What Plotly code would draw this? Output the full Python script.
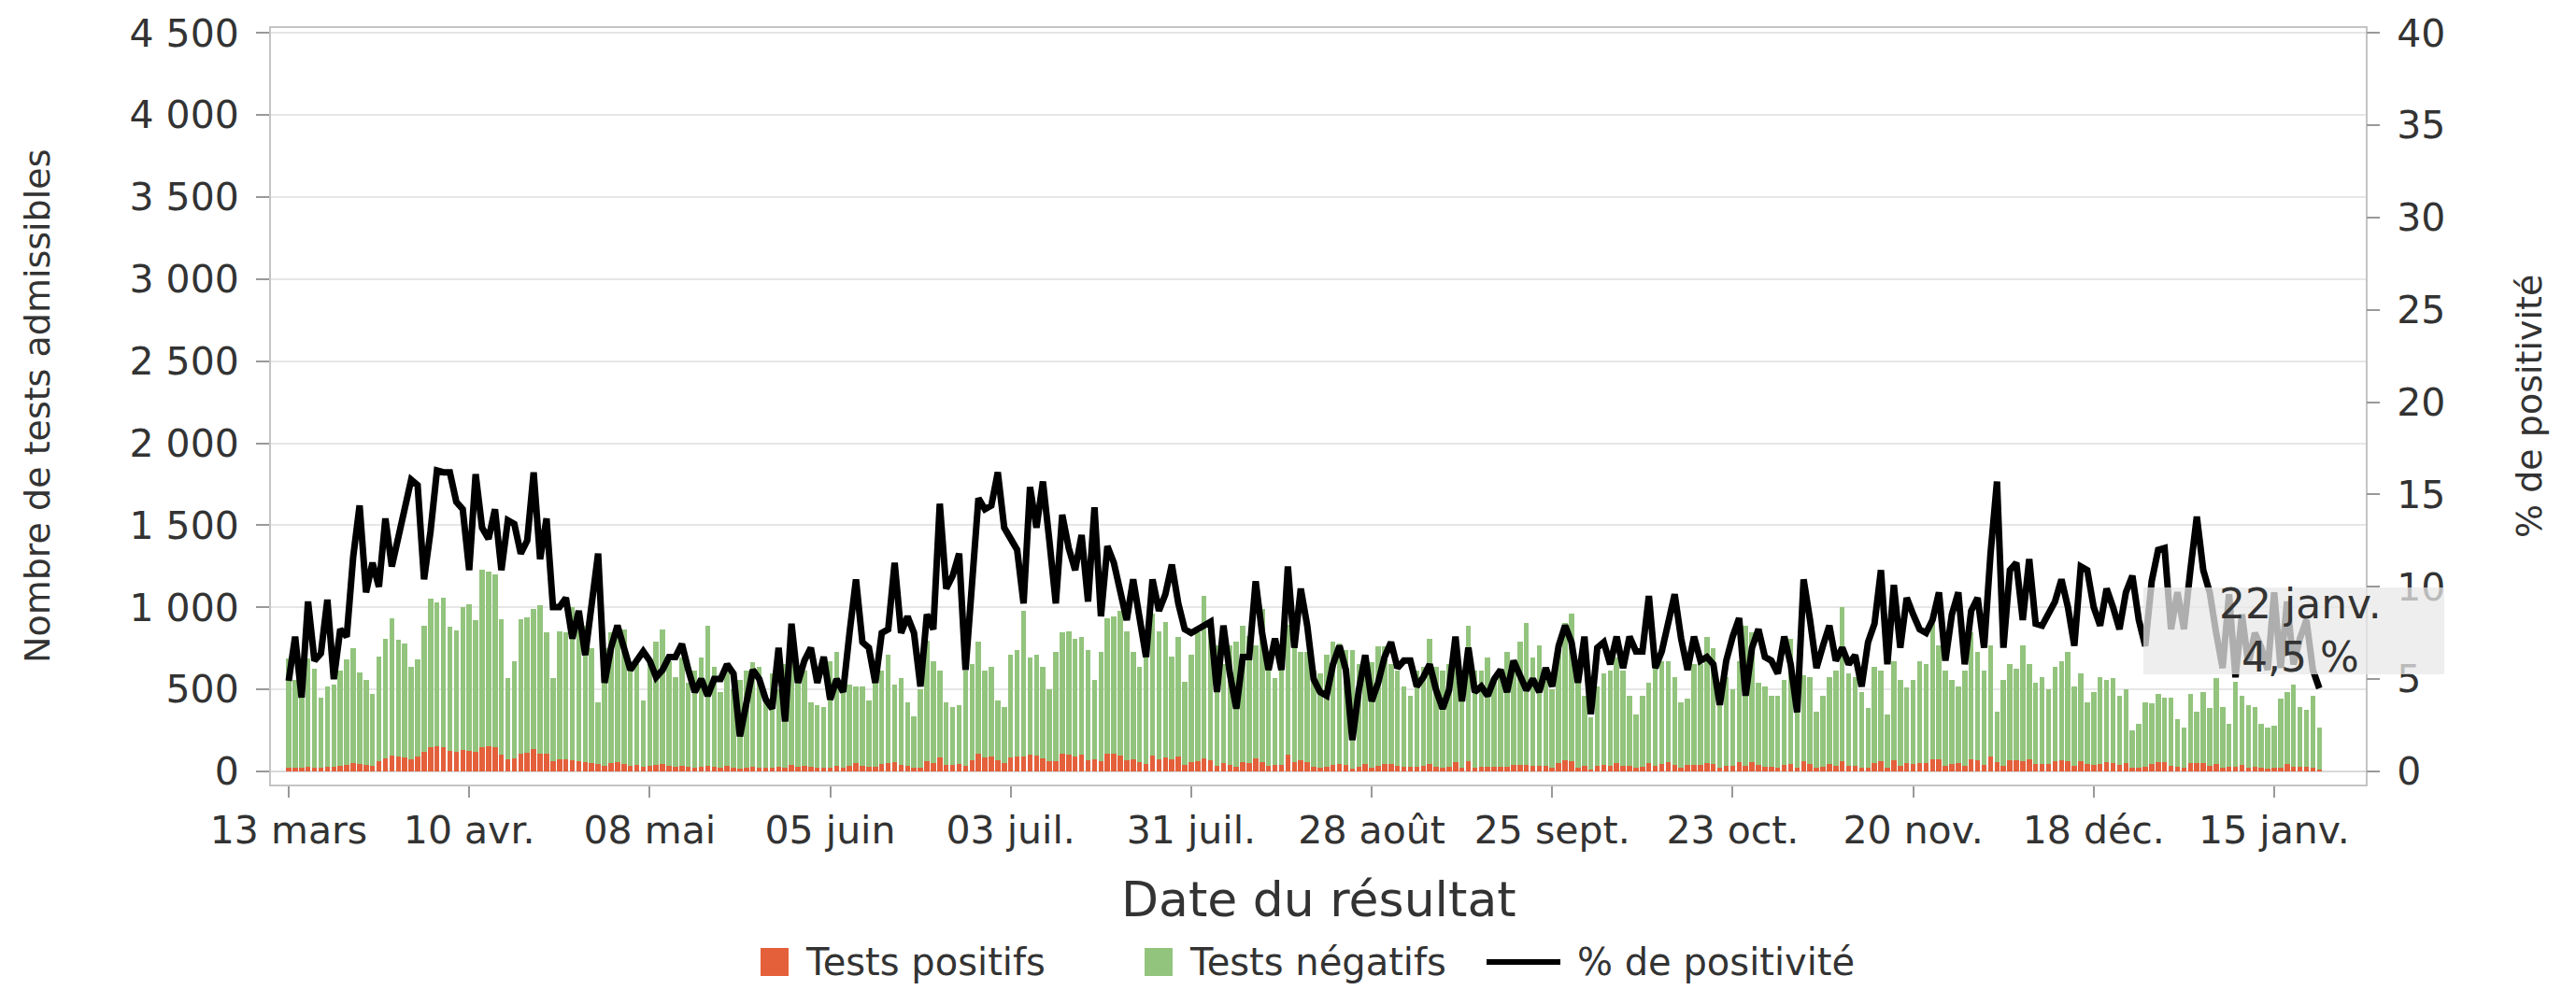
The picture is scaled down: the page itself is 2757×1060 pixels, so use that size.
"""
Tests admissibles par date du résultat : positifs / négatifs (barres empilées)
et % de positivité (ligne, axe de droite).
"""
import pandas as pd
import plotly.graph_objects as go

START = "2020-03-13"

# valeurs, une par jour (13 mars -> 22 janv.)
tests_positifs = [
    25, 20, 20, 30, 25, 25, 30, 30, 35, 40,
    50, 45, 40, 35, 60, 80, 95, 90, 85, 75,
    90, 120, 150, 155, 150, 125, 120, 130, 125, 120,
    150, 155, 150, 100, 75, 80, 110, 115, 135, 110,
    105, 60, 75, 75, 70, 65, 55, 50, 45, 35,
    50, 55, 45, 35, 40, 30, 35, 40, 45, 35,
    30, 35, 30, 25, 30, 35, 30, 25, 35, 25,
    15, 20, 30, 25, 20, 20, 30, 20, 40, 30,
    35, 30, 20, 25, 25, 35, 25, 35, 50, 35,
    30, 30, 45, 50, 55, 40, 35, 25, 25, 60,
    50, 85, 40, 40, 45, 35, 70, 110, 85, 90,
    70, 52, 85, 90, 90, 100, 95, 80, 60, 65,
    110, 100, 90, 100, 70, 75, 60, 110, 105, 95,
    70, 75, 55, 45, 95, 75, 85, 75, 90, 40,
    55, 60, 80, 70, 35, 50, 40, 30, 55, 50,
    80, 55, 35, 40, 40, 100, 55, 70, 55, 30,
    25, 30, 40, 45, 40, 15, 30, 45, 25, 35,
    45, 45, 35, 30, 30, 30, 35, 45, 30, 20,
    30, 55, 25, 60, 25, 30, 30, 30, 30, 30,
    40, 40, 40, 35, 35, 35, 25, 50, 70, 60,
    25, 35, 10, 35, 40, 35, 50, 35, 35, 25,
    30, 50, 35, 45, 55, 40, 25, 40, 40, 40,
    50, 45, 20, 35, 35, 55, 35, 55, 40, 30,
    30, 25, 40, 45, 20, 60, 45, 20, 30, 45,
    35, 65, 35, 35, 20, 25, 50, 65, 20, 70,
    35, 50, 45, 50, 50, 75, 75, 35, 45, 50,
    35, 75, 70, 40, 90, 55, 35, 70, 70, 65,
    75, 45, 45, 45, 60, 70, 65, 35, 65, 45,
    40, 45, 55, 50, 40, 50, 25, 25, 30, 45,
    55, 55, 35, 30, 20, 50, 50, 50, 35, 45,
    20, 30, 30, 40, 25, 30, 20, 15, 25, 25,
    45, 30, 30, 30, 25, 12,
]
tests_negatifs = [
    665, 540, 450, 660, 600, 425, 490, 500, 580, 640,
    700, 560, 520, 435, 640, 730, 840, 710, 695, 560,
    590, 770, 900, 875, 910, 755, 740, 870, 895, 800,
    1080, 1065, 1050, 830, 495, 590, 820, 825, 855, 900,
    741, 507, 781, 771, 930, 865, 830, 700, 378, 715,
    796, 810, 820, 580, 614, 403, 619, 748, 820, 638,
    547, 657, 508, 590, 662, 850, 605, 456, 619, 475,
    543, 595, 633, 610, 442, 576, 470, 634, 690, 585,
    580, 393, 384, 369, 648, 696, 513, 494, 469, 484,
    403, 547, 570, 661, 474, 527, 388, 311, 475, 738,
    623, 530, 383, 354, 359, 580, 584, 678, 530, 545,
    363, 342, 626, 650, 891, 592, 616, 555, 440, 666,
    736, 756, 718, 717, 670, 483, 671, 823, 837, 886,
    786, 656, 580, 724, 867, 781, 828, 627, 727, 508,
    656, 786, 987, 834, 734, 604, 729, 758, 830, 777,
    689, 935, 619, 527, 691, 794, 733, 661, 676, 585,
    571, 681, 748, 734, 700, 725, 624, 647, 638, 725,
    715, 609, 580, 489, 432, 585, 600, 763, 605, 595,
    624, 695, 590, 825, 590, 585, 662, 547, 547, 701,
    633, 748, 864, 657, 734, 580, 475, 719, 834, 902,
    513, 427, 317, 484, 556, 580, 642, 580, 427, 321,
    432, 488, 619, 628, 618, 537, 398, 402, 614, 614,
    767, 705, 499, 542, 465, 618, 850, 791, 498, 489,
    432, 437, 518, 763, 567, 527, 532, 345, 432, 532,
    580, 935, 561, 542, 461, 360, 585, 550, 326, 603,
    523, 460, 513, 623, 604, 829, 694, 580, 513, 469,
    580, 771, 661, 575, 679, 310, 523, 584, 555, 704,
    579, 493, 532, 455, 575, 603, 666, 484, 531, 378,
    441, 532, 503, 517, 422, 450, 225, 263, 393, 368,
    416, 397, 417, 287, 249, 421, 315, 431, 350, 522,
    374, 258, 518, 422, 379, 364, 268, 254, 254, 417,
    436, 499, 364, 345, 437, 257,
]
pct_positivite = [
    4.9, 7.3, 4.0, 9.2, 6.0, 6.4, 9.3, 5.0, 7.7, 7.3,
    11.6, 14.4, 9.7, 11.3, 10.0, 13.7, 11.1, 12.8, 14.4, 15.8,
    15.5, 10.4, 13.0, 16.3, 16.2, 16.2, 14.6, 14.2, 10.9, 16.1,
    13.2, 12.6, 14.2, 10.9, 13.6, 13.4, 11.8, 12.5, 16.2, 11.5,
    13.7, 8.9, 8.9, 9.4, 7.2, 8.7, 6.3, 9.4, 11.8, 4.8,
    6.7, 7.9, 6.8, 5.5, 6.0, 6.5, 6.0, 5.1, 5.5, 6.2,
    6.2, 6.9, 5.5, 4.3, 5.0, 4.1, 5.0, 5.0, 5.8, 5.3,
    1.9, 3.8, 5.5, 5.0, 3.9, 3.4, 6.7, 2.7, 8.0, 4.8,
    6.0, 6.7, 4.8, 6.2, 3.9, 5.0, 4.3, 7.5, 10.4, 7.0,
    6.7, 4.8, 7.5, 7.7, 11.3, 7.5, 8.4, 7.5, 4.6, 8.5,
    7.7, 14.5, 9.9, 10.6, 11.8, 5.5, 10.6, 14.8, 14.2, 14.4,
    16.2, 13.2, 12.6, 12.0, 9.1, 15.4, 13.2, 15.7, 12.5, 9.1,
    13.9, 12.1, 10.9, 12.8, 9.2, 14.3, 8.4, 12.2, 11.3, 9.7,
    8.2, 10.4, 8.5, 6.2, 10.4, 8.7, 9.6, 11.2, 9.1, 7.7,
    7.5, 7.7, 7.9, 8.1, 4.3, 7.9, 5.3, 3.4, 6.2, 6.2,
    10.3, 7.5, 5.5, 7.2, 5.5, 11.1, 6.7, 9.9, 7.9, 5.0,
    4.3, 4.1, 5.8, 6.8, 5.5, 1.7, 4.4, 6.3, 3.8, 4.8,
    6.2, 7.0, 5.6, 6.0, 6.0, 4.6, 5.1, 5.8, 4.4, 3.4,
    4.4, 7.3, 3.8, 6.7, 4.3, 4.6, 4.1, 5.0, 5.5, 4.3,
    6.0, 5.1, 4.4, 5.0, 4.3, 5.6, 4.6, 6.8, 7.9, 7.0,
    4.8, 7.3, 3.1, 6.7, 7.0, 5.8, 7.3, 5.6, 7.3, 6.5,
    6.5, 9.5, 5.6, 6.5, 8.2, 9.6, 7.2, 5.5, 7.3, 6.0,
    6.2, 5.8, 3.6, 6.0, 7.3, 8.3, 4.1, 6.7, 7.7, 6.2,
    6.0, 5.3, 7.3, 5.8, 3.2, 10.4, 8.2, 5.6, 6.8, 7.9,
    6.0, 6.7, 5.8, 6.3, 4.6, 7.0, 8.0, 10.9, 5.8, 10.1,
    6.7, 9.4, 8.5, 7.7, 7.5, 8.2, 9.7, 6.0, 8.5, 9.7,
    5.8, 8.7, 9.4, 6.7, 11.8, 15.7, 6.7, 10.9, 11.3, 8.2,
    11.5, 8.0, 7.9, 8.5, 9.2, 10.4, 8.9, 6.8, 11.1, 10.9,
    8.9, 7.9, 9.9, 8.9, 7.7, 9.7, 10.6, 8.2, 6.8, 10.3,
    12.0, 12.1, 7.7, 9.7, 7.7, 10.9, 13.8, 10.9, 9.7, 7.5,
    5.6, 9.6, 5.1, 8.5, 5.8, 7.5, 6.7, 5.5, 9.7, 5.6,
    9.2, 5.8, 7.2, 8.2, 5.5, 4.5,
]

x_ticktext = ["13 mars", "10 avr.", "08 mai", "05 juin", "03 juil.", "31 juil.",
              "28 août", "25 sept.", "23 oct.", "20 nov.", "18 déc.", "15 janv."]
y_tickvals = [0, 500, 1000, 1500, 2000, 2500, 3000, 3500, 4000, 4500]
y_ticktext = ["0", "500", "1 000", "1 500", "2 000", "2 500", "3 000", "3 500", "4 000", "4 500"]

ROUGE = "#E4603B"
VERT = "#93C47D"
TXT = "#333333"
FONT = "DejaVu Sans"

dates = pd.date_range(START, periods=len(pct_positivite), freq="D")

fig = go.Figure()
fig.add_trace(go.Bar(x=dates, y=tests_positifs, name="Tests positifs",
                     marker=dict(color=ROUGE, line=dict(width=0))))
fig.add_trace(go.Bar(x=dates, y=tests_negatifs, name="Tests négatifs",
                     marker=dict(color=VERT, line=dict(width=0))))
fig.add_trace(go.Scatter(x=dates, y=pct_positivite, name="% de positivité", yaxis="y2",
                         mode="lines", line=dict(color="black", width=7)))

# cadre en pixels -> coordonnées "paper"
L, R, T, B = 290, 2532, 30, 840
W, H = R - L, B - T
px = lambda v: (v - L) / W
py = lambda v: (B - v) / H

shapes = []
annots = []

# légende dessinée à la main (symboles à la bonne taille)
leg_y = py(1030)
for x0, x1, kind, col, label in [
        (814, 844, "rect", ROUGE, "Tests positifs"),
        (1225, 1255, "rect", VERT, "Tests négatifs"),
        (1591, 1670, "line", "black", "% de positivité")]:
    if kind == "rect":
        shapes.append(dict(type="rect", xref="paper", yref="paper",
                           x0=px(x0), x1=px(x1), y0=py(1045), y1=py(1015),
                           fillcolor=col, line=dict(width=0)))
    else:
        shapes.append(dict(type="line", xref="paper", yref="paper",
                           x0=px(x0), x1=px(x1), y0=leg_y, y1=leg_y,
                           line=dict(color=col, width=6)))
    annots.append(dict(text=label, xref="paper", yref="paper", x=px(x1 + 16), y=leg_y,
                       xanchor="left", yanchor="middle", showarrow=False,
                       font=dict(family=FONT, size=40, color=TXT)))

# infobulle figée sur le 22 janv.
shapes.append(dict(type="rect", xref="paper", yref="paper", layer="above",
                   x0=px(2294), x1=px(2616), y0=py(722), y1=py(629),
                   fillcolor="rgba(232,232,232,0.75)", line=dict(width=0)))
annots.append(dict(text="22 janv.<br>4,5 %", xref="paper", yref="paper",
                   x=px(2462), y=py(675), xanchor="center", yanchor="middle",
                   align="center", showarrow=False,
                   font=dict(family=FONT, size=44, color=TXT)))

# titres des axes
annots += [
    dict(text="Date du résultat", xref="paper", yref="paper", x=0.5, y=py(963),
         xanchor="center", yanchor="middle", showarrow=False,
         font=dict(family=FONT, size=52, color=TXT)),
    dict(text="Nombre de tests admissibles", xref="paper", yref="paper", x=px(40), y=0.5,
         xanchor="center", yanchor="middle", textangle=-90, showarrow=False,
         font=dict(family=FONT, size=38, color=TXT)),
    dict(text="% de positivité", xref="paper", yref="paper", x=px(2707), y=0.5,
         xanchor="center", yanchor="middle", textangle=-90, showarrow=False,
         font=dict(family=FONT, size=38, color=TXT)),
]

tick_font = dict(family=FONT, size=41, color=TXT)
fig.update_layout(
    width=2757, height=1060,
    margin=dict(l=L, r=2757 - R, t=T, b=1060 - B),
    paper_bgcolor="white", plot_bgcolor="white",
    barmode="stack", bargap=0.2,
    showlegend=False,
    shapes=shapes, annotations=annots,
    xaxis=dict(type="date",
               range=["2020-03-10 06:00", "2021-01-29 05:00"],
               tickmode="array", tickvals=dates[::28], ticktext=x_ticktext,
               ticks="outside", ticklen=12, tickwidth=2, tickcolor="#999999",
               showgrid=False, showline=True, linecolor="#c4c4c4", linewidth=2,
               mirror=True, tickfont=tick_font),
    yaxis=dict(range=[-80, 4530], tickmode="array", tickvals=y_tickvals,
               ticktext=y_ticktext, ticks="outside", ticklen=14, tickwidth=2,
               tickcolor="#999999", ticklabelstandoff=10,
               showgrid=True, gridcolor="#e6e6e6", gridwidth=2,
               zeroline=True, zerolinecolor="#d9d9d9", zerolinewidth=2,
               showline=True, linecolor="#c4c4c4", linewidth=2, mirror=True,
               tickfont=tick_font),
    yaxis2=dict(overlaying="y", side="right", range=[-80 / 112.5, 4530 / 112.5],
                tickmode="linear", tick0=0, dtick=5, ticks="outside", ticklen=14,
                tickwidth=2, tickcolor="#999999", ticklabelstandoff=10,
                showgrid=False, zeroline=False, tickfont=tick_font),
)

fig.write_html("out.html", config={"displayModeBar": False},
               post_script="document.body.style.margin='0';document.body.style.overflow='hidden';")
